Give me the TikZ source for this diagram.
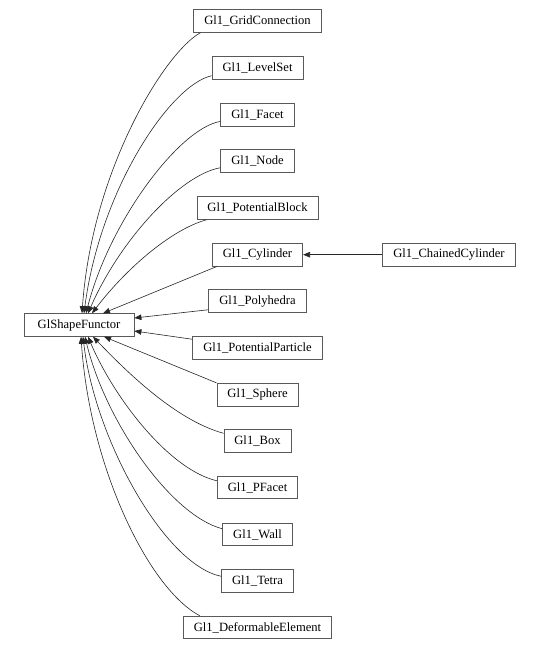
\documentclass[tikz,border=0pt]{standalone}
\usepackage{fontspec}
\setmainfont{Liberation Serif}
\usetikzlibrary{arrows.meta}
\begin{document}
\begin{tikzpicture}[x=1pt,y=-1pt,
  cls/.style={draw=black!65,line width=0.75pt,rectangle,minimum height=22.7pt,inner ysep=0pt,inner xsep=10.5pt,font=\fontsize{12.6}{14}\selectfont,text=black},
  inh/.style={draw=black!85,line width=0.6pt,-{Triangle[length=7pt,width=5.5pt]}}]
\useasboundingbox (0,0) rectangle (541,650);
\node[cls,minimum width=110pt] (base) at (79,325) {GlShapeFunctor};
\node[cls] (grid) at (257.5,21) {Gl1\_GridConnection};
\node[cls] (lvl) at (257.5,68) {Gl1\_LevelSet};
\node[cls] (facet) at (257.5,114.7) {Gl1\_Facet};
\node[cls] (nd) at (257.5,161) {Gl1\_Node};
\node[cls] (pblk) at (257.5,208) {Gl1\_PotentialBlock};
\node[cls] (cyl) at (257.5,254.7) {Gl1\_Cylinder};
\node[cls] (chain) at (449,254.7) {Gl1\_ChainedCylinder};
\node[cls] (poly) at (257.5,301) {Gl1\_Polyhedra};
\node[cls] (ppart) at (257.5,348) {Gl1\_PotentialParticle};
\node[cls] (sph) at (257.5,394.6) {Gl1\_Sphere};
\node[cls] (box) at (257.5,441) {Gl1\_Box};
\node[cls] (pfac) at (257.5,487.5) {Gl1\_PFacet};
\node[cls] (wall) at (257.5,534.5) {Gl1\_Wall};
\node[cls] (tet) at (257.5,581) {Gl1\_Tetra};
\node[cls] (def) at (257.5,627.5) {Gl1\_DeformableElement};
% edges
\draw[inh] ([xshift=7pt]grid.south west) .. controls (165,52) and (92,170) .. ([xshift=3pt]base.north);
\draw[inh] ([yshift=4pt]lvl.south west) .. controls (170,85) and (100,190) .. ([xshift=5pt]base.north);
\draw[inh] ([yshift=5pt]facet.south west) .. controls (180,128) and (110,220) .. ([xshift=7pt]base.north);
\draw[inh] ([yshift=5pt]nd.south west) .. controls (180,175) and (120,240) .. ([xshift=9pt]base.north);
\draw[inh] ([xshift=10pt]pblk.south west) .. controls (170,230) and (125,270) .. ([xshift=13pt]base.north);
\draw[inh] ([xshift=5pt]cyl.south west) -- ([xshift=24pt]base.north);
\draw[inh] ([yshift=3pt]poly.south west) -- ([yshift=7pt]base.east);
\draw[inh] ([yshift=-3pt]ppart.north west) -- ([yshift=-6pt]base.east);
\draw[inh] (sph.north west) -- ([xshift=25pt]base.south);
\draw[inh] ([yshift=-4pt]box.north west) .. controls (175,420) and (125,370) .. ([xshift=14pt]base.south);
\draw[inh] ([yshift=-5pt]pfac.north west) .. controls (170,470) and (115,400) .. ([xshift=9pt]base.south);
\draw[inh] ([yshift=-6pt]wall.north west) .. controls (170,515) and (105,420) .. ([xshift=6pt]base.south);
\draw[inh] ([yshift=-7pt]tet.north west) .. controls (165,565) and (95,440) .. ([xshift=4pt]base.south);
\draw[inh] ([xshift=17pt]def.north west) .. controls (150,590) and (90,470) .. ([xshift=2pt]base.south);
\draw[inh] (chain.west) -- (cyl.east);
\end{tikzpicture}
\end{document}
